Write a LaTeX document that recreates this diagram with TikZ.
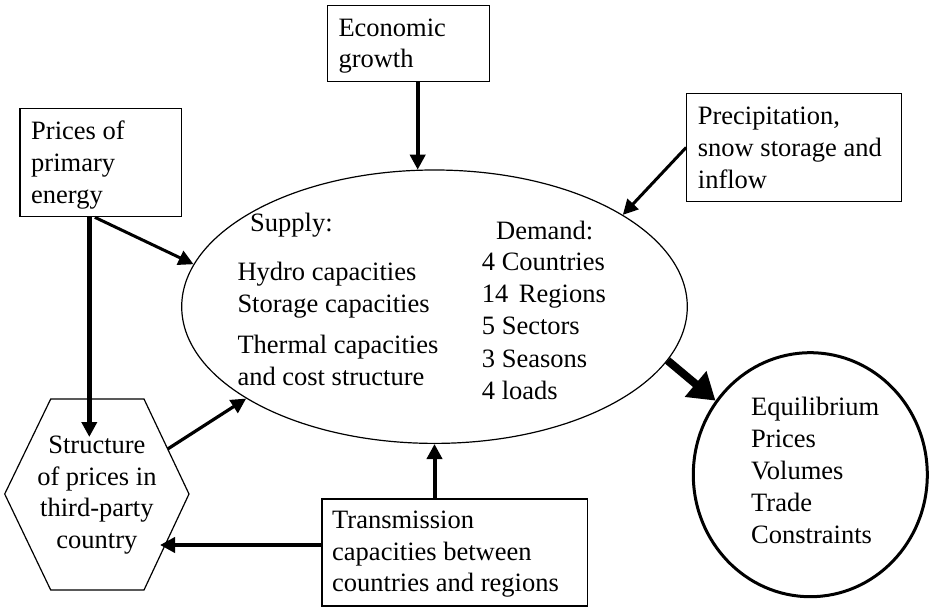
\documentclass[tikz,border=0pt]{standalone}
\usepackage{fontspec}
\setmainfont{Liberation Serif}
\usetikzlibrary{arrows.meta,shapes.geometric}
\tikzset{
  txt/.style={anchor=base west, inner sep=0pt, font=\fontsize{26.5}{32}\selectfont},
  ctxt/.style={txt, anchor=base},
  box/.style={draw, line width=1.2pt, rectangle, inner sep=0pt},
  arr/.style={line width=3.5pt, -{Triangle[length=15pt,width=15pt]}},
  bigarr/.style={line width=8pt, -{Triangle[length=26pt,width=32pt]}},
}
\newcommand\txtlines[5]{\foreach \lin [count=\i] in {#5} {\node[txt] (#1\i) at (#2,{#3+(\i-1)*#4}) {\lin};}}
\begin{document}
\begin{tikzpicture}[x=1pt,y=-1pt]
\useasboundingbox (0,0) rectangle (929,607);
% boxes
\node[box, minimum width=162pt, minimum height=76pt] (econ) at (408.3,43.7) {};
\node[box, minimum width=161.7pt, minimum height=108.4pt] (prices) at (100.85,162.5) {};
\node[box, minimum width=215pt, minimum height=108.4pt] (precip) at (794.2,147.5) {};
\node[box, minimum width=265.3pt, minimum height=107pt] (trans) at (454.65,552.5) {};
% ellipse and circle
\node[draw, ellipse, line width=1.2pt, inner sep=0pt, minimum width=505.6pt, minimum height=273.4pt] (sys) at (434.5,306.7) {};
\node[draw, ellipse, line width=3pt, inner sep=0pt, minimum width=234pt, minimum height=244pt] (out) at (810.3,474.7) {};
% hexagon
\draw[line width=1.2pt] (50.7,399) -- (144,399) -- (189,494) -- (144,590) -- (50.7,590) -- (4.7,494) -- cycle;
\coordinate (hexR) at (167.7,449);
\coordinate (hexTop) at (89.3,437);
\coordinate (hexIn) at (160,545);
% texts
\txtlines{econt}{338.3}{36.7}{31.3}{Economic,growth}
\txtlines{pricest}{31}{140}{31.5}{Prices of,primary,energy}
\txtlines{prect}{697.7}{125}{32}{{Precipitation,},snow storage and,inflow}
\txtlines{transt}{332}{528.3}{31.7}{Transmission,capacities between,countries and regions}
\node[txt] (supply) at (250,231) {Supply:};
\txtlines{hyd}{237.3}{280}{32.7}{Hydro capacities,Storage capacities}
\txtlines{therm}{237.3}{353.3}{31.7}{Thermal capacities,and cost structure}
\node[txt] (demand) at (496,239.3) {Demand:};
\txtlines{demt}{481.7}{270.7}{32.1}{4 Countries,14\hspace{0.4em}Regions,5 Sectors,3 Seasons,4 loads}
\txtlines{eqt}{751}{415}{32.1}{Equilibrium,Prices,Volumes,Trade,Constraints}
\foreach \lin [count=\i] in {Structure,of prices in,third-party,country}
  {\node[ctxt] (hext\i) at (96.9,{453.3+(\i-1)*31.7}) {\lin};}
% arrows
\draw[arr, line width=4pt] (econ.south -| sys.97) -- (sys.97);
\draw[arr, line width=4.5pt] (prices.south -| hexTop) -- (hexTop);
\draw[arr, line width=3pt] ([xshift=-6pt]prices.south) -- (sys.170);
\draw[arr, line width=3pt] (precip.west) -- (sys.26);
\draw[arr, line width=3.2pt] (hexR) -- (sys.206);
\draw[arr, line width=4pt] (trans.north -| sys.south) -- (sys.south);
\draw[arr, line width=4pt] (trans.west |- hexIn) -- (hexIn);
\draw[bigarr] (sys.-13.6) -- (out.142);
\end{tikzpicture}
\end{document}
